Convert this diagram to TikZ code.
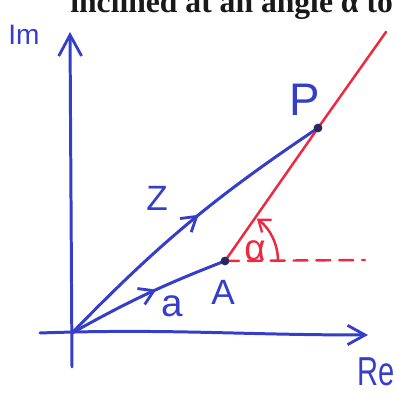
\documentclass[tikz,border=0pt]{standalone}
\usepackage{fontspec}
\setmainfont{Liberation Serif}
\newfontfamily\handfont{Liberation Sans}
\usetikzlibrary{arrows.meta,decorations.markings}
\definecolor{penblue}{RGB}{52,62,200}
\definecolor{penred}{RGB}{238,40,62}
\definecolor{dotnavy}{RGB}{40,42,95}
\definecolor{printink}{RGB}{25,25,25}
\tikzset{
  axisline/.style={penblue,line width=1.7pt,line cap=round},
  vecline/.style={penblue,line width=1.7pt,line cap=round,
    decoration={markings,mark=at position #1 with {\arrow{Straight Barb[length=8pt,width=10pt,line width=1.6pt]}}},
    postaction=decorate},
  redline/.style={penred,line width=1.4pt,line cap=round},
  bluelabel/.style={penblue,font=\handfont,inner sep=0pt},
  ptdot/.style={circle,fill=dotnavy,minimum size=5pt,inner sep=0pt},
}
\begin{document}
\begin{tikzpicture}[x=0.02cm,y=0.02cm]
\useasboundingbox (0,0) rectangle (396,394);
\begin{scope}
\clip (0,0) rectangle (396,394);
\node[anchor=base west,inner sep=0pt,text=printink,font=\bfseries\fontsize{18}{20}\selectfont] (title) at (70,381) {inclined at an angle α to};
\end{scope}
% points
\coordinate (O) at (72,61);
\coordinate (imbot) at (72,27);
\coordinate (imtop) at (70,362);
\coordinate (releft) at (40,61);
\coordinate (retip) at (368,59);
\coordinate (A) at (225,133);
\coordinate (P) at (318,266);
\coordinate (redtop) at (386,362);
\coordinate (dashend) at (365,134);
% axes
\draw[axisline,-{Straight Barb[length=12pt,width=13pt,line width=1.6pt]}] (imbot) -- (imtop);
\draw[axisline,-{Straight Barb[length=10pt,width=11pt,line width=1.6pt]}] (releft) to[out=2,in=180] (retip);
% red line and dashed reference
\draw[redline] (A) -- (P) -- (redtop);
\draw[redline,dash pattern=on 8pt off 5pt] (A) -- (dashend);
\draw[redline,-{Straight Barb[length=6pt,width=9pt,line width=1.3pt]}] ([shift={(0:53)}]A) arc[start angle=0,end angle=53,radius=53];
% vectors
\draw[vecline=0.54] (O) to[bend left=6] (P);
\draw[vecline=0.56] (O) to[bend left=4] (A);
% dots
\node[ptdot] (Adot) at (A) {};
\node[ptdot] (Pdot) at (P) {};
% labels
\node[bluelabel,font=\handfont\fontsize{16}{16}\selectfont] (Im) at (24,359) {Im};
\node[bluelabel,font=\handfont\fontsize{26}{26}\selectfont] (Plab) at (305,294) {P};
\node[bluelabel,font=\handfont\fontsize{20}{20}\selectfont] (Zlab) at (157,196) {Z};
\node[bluelabel,font=\handfont\fontsize{22}{22}\selectfont] (alab) at (172,88) {a};
\node[bluelabel,font=\handfont\fontsize{20}{20}\selectfont] (Alab) at (223,102) {A};
\node[bluelabel,xscale=0.72,font=\handfont\fontsize{23}{23}\selectfont] (Relab) at (376,22) {Re};
\node[penred,inner sep=0pt,font=\handfont\fontsize{21}{21}\selectfont] (alpha) at (255,143) {α};
\end{tikzpicture}
\end{document}
